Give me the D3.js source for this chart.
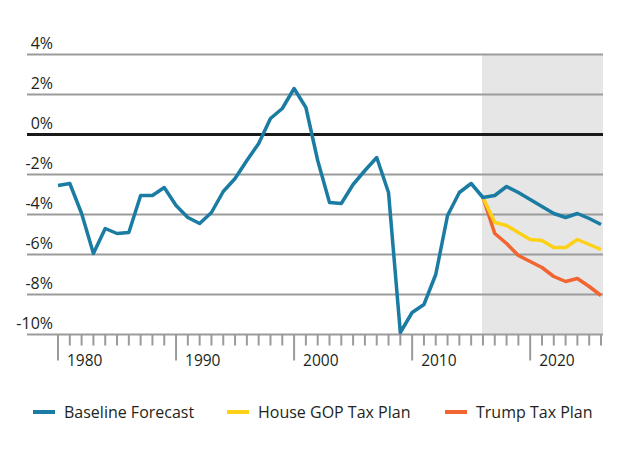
<!DOCTYPE html>
<html><head><meta charset="utf-8">
<script src="https://cdn.jsdelivr.net/npm/d3@7"></script>
<style>body{margin:0;background:#fff}svg{display:block}text{font-family:"Open Sans",sans-serif;fill:#231f20}</style>
</head><body><svg id="c" width="630" height="467"></svg>
<script>
const baselineYears = d3.range(1980, 2027);
const baselineValues = [-2.55,-2.45,-3.95,-5.95,-4.7,-4.95,-4.9,-3.05,-3.05,-2.65,-3.55,-4.15,-4.45,-3.9,-2.85,-2.2,-1.3,-0.45,0.8,1.3,2.3,1.35,-1.3,-3.4,-3.45,-2.5,-1.8,-1.15,-2.9,-9.9,-8.9,-8.5,-7.0,-4.05,-2.9,-2.45,-3.15,-3.05,-2.6,-2.9,-3.25,-3.6,-3.95,-4.15,-3.95,-4.2,-4.5];
const planYears = d3.range(2016, 2027);
const houseValues = [-3.15,-4.4,-4.55,-4.9,-5.25,-5.3,-5.65,-5.65,-5.25,-5.5,-5.75];
const trumpValues = [-3.15,-4.95,-5.45,-6.05,-6.35,-6.65,-7.1,-7.35,-7.2,-7.6,-8.05];
const yTicks = [4,2,0,-2,-4,-6,-8,-10];
const xMajor = [1980,1990,2000,2010,2020];
const legendItems = ["Baseline Forecast","House GOP Tax Plan","Trump Tax Plan"];
const forecastStart = 2016;

const colors = {base:"#1a7ba3", house:"#fcd116", trump:"#f26430"};
const svg = d3.select("#c");
const x = d3.scaleLinear().domain([1980,2026]).range([58,601]);
const y = d3.scaleLinear().domain([-10,4]).range([334.5,54.5]);
const left = 27, right = 603;

svg.append("rect").attr("x", x(forecastStart)-1).attr("y", y(4))
  .attr("width", right - x(forecastStart)+1).attr("height", y(-10)-y(4)).attr("fill","#e6e6e6");

svg.selectAll(".grid").data(yTicks).join("line")
  .attr("x1", left).attr("x2", right).attr("y1", d=>y(d)).attr("y2", d=>y(d))
  .attr("stroke", d=> d===0 ? "#1a1a1a" : "#9b9b9b").attr("stroke-width", d=> d===0 ? 3 : 2);

svg.selectAll(".ylab").data(yTicks).join("text")
  .attr("x", 53).attr("y", d=>y(d)-6).attr("text-anchor","end").attr("font-size",16)
  .text(d=>d+"%");

// x axis ticks
const ax = svg.append("g").attr("transform",`translate(0,${y(-10)})`);
const allTicks = d3.range(1980, 2027);
ax.selectAll("line").data(allTicks).join("line")
  .attr("x1", d=>x(d)).attr("x2", d=>x(d)).attr("y1",0)
  .attr("y2", d=> xMajor.includes(d) ? 26 : 11).attr("stroke","#9b9b9b").attr("stroke-width",2);
ax.selectAll("text").data(xMajor).join("text")
  .attr("x", d=>x(d)+9).attr("y", 31).attr("font-size",15.5).text(d=>d);

const line = d3.line().x(d=>x(d[0])).y(d=>y(d[1]));
function draw(years, vals, col){
  svg.append("path").datum(years.map((yr,i)=>[yr, vals[i]]))
    .attr("d", line).attr("fill","none").attr("stroke", col).attr("stroke-width",3.5)
    .attr("stroke-linejoin","round");
}
draw(planYears, trumpValues, colors.trump);
draw(planYears, houseValues, colors.house);
draw(baselineYears, baselineValues, colors.base);

// legend
const legX = [33, 227, 445];
const legCol = [colors.base, colors.house, colors.trump];
const lg = svg.selectAll(".leg").data(legendItems).join("g").attr("transform",(d,i)=>`translate(${legX[i]},412)`);
lg.append("line").attr("x1",0).attr("x2",22).attr("y1",0).attr("y2",0)
  .attr("stroke",(d,i)=>legCol[i]).attr("stroke-width",4);
lg.append("text").attr("x",31).attr("y",5.5).attr("font-size",16).text(d=>d);
</script></body></html>
